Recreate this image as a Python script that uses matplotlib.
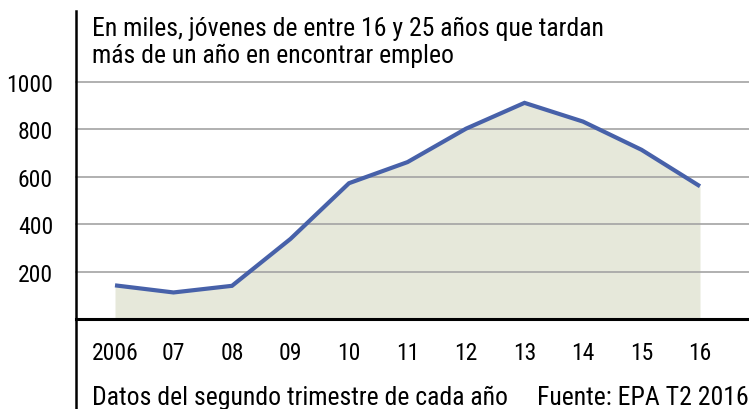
import matplotlib
matplotlib.use("Agg")
import matplotlib.pyplot as plt
from matplotlib.lines import Line2D
from matplotlib import font_manager

years = [2006, 2007, 2008, 2009, 2010, 2011, 2012, 2013, 2014, 2015, 2016]
year_labels = ["2006", "07", "08", "09", "10", "11", "12", "13", "14", "15", "16"]
values = [142, 112, 140, 338, 573, 662, 803, 912, 833, 714, 560]
yticks = [200, 400, 600, 800, 1000]

names = {f.name for f in font_manager.fontManager.ttflist}
fam = "DejaVu Sans"
for cand in ["Roboto Condensed", "Archivo Narrow", "Barlow Semi Condensed", "Fira Sans Condensed"]:
    if cand in names:
        fam = cand
        break
plt.rcParams['font.family'] = [fam, 'DejaVu Sans']

W, H = 749, 410
fig = plt.figure(figsize=(W / 100, H / 100), dpi=100)

def fx(px):
    return px / W

def fy(py):
    return 1 - py / H

FS_T = 18.5
FS_N = 17

ax = fig.add_axes([fx(76), fy(320), fx(749 - 76), (320 - 83) / H])
ax.set_xlim(2006 - 39 / 58.5, 2016 + 49 / 58.5)
ax.set_ylim(0, 1000)

ax.fill_between(years, values, 0, color="#E6E8DA", zorder=1, linewidth=0)
for t in yticks:
    ax.axhline(t, color="#A3A3A3", linewidth=1.2, zorder=2, clip_on=False)
ax.plot(years, values, color="#4761A9", linewidth=3.0, zorder=3,
        solid_joinstyle="miter", solid_capstyle="butt")

for s in ["top", "right", "left"]:
    ax.spines[s].set_visible(False)
ax.spines["bottom"].set_linewidth(2.2)
ax.spines["bottom"].set_color("black")
ax.spines["bottom"].set_zorder(4)

ax.set_yticks(yticks)
ax.set_yticklabels([str(t) for t in yticks], fontsize=FS_N)
ax.tick_params(axis="y", length=0, pad=16.5)
ax.set_xticks(years)
ax.set_xticklabels(year_labels, fontsize=FS_N)
ax.tick_params(axis="x", length=0, pad=15.5)

fig.add_artist(Line2D([fx(76), fx(76)], [fy(12), 0], color="black", linewidth=1.8,
                      transform=fig.transFigure))

fig.text(fx(92), fy(36), "En miles, jóvenes de entre 16 y 25 años que tardan",
         fontsize=FS_T, va="baseline", ha="left")
fig.text(fx(92), fy(63), "más de un año en encontrar empleo",
         fontsize=FS_T, va="baseline", ha="left")
fig.text(fx(92), fy(405), "Datos del segundo trimestre de cada año",
         fontsize=FS_T, va="baseline", ha="left")
fig.text(fx(748.5), fy(405), "Fuente: EPA T2 2016",
         fontsize=FS_T, va="baseline", ha="right")

fig.savefig("out.png", dpi=100, facecolor="white")
